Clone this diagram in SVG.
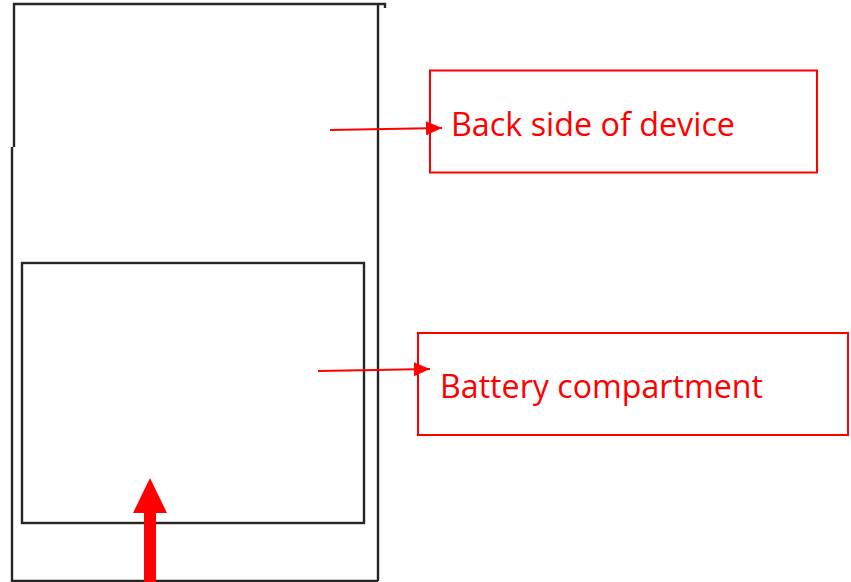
<svg xmlns="http://www.w3.org/2000/svg" width="851" height="582" viewBox="0 0 851 582">
<defs>
<style>
.dev{fill:none;stroke:#262626;stroke-width:2.4}
.box{fill:none;stroke:#ff0000;stroke-width:2}
.lbl{font-family:"Open Sans","Liberation Sans",Arial,sans-serif;font-size:32px;fill:#ff0000}
.con{stroke:#ff0000;stroke-width:2;fill:none}
</style>
<marker id="ah" markerWidth="16" markerHeight="14" refX="16" refY="7" orient="auto" markerUnits="userSpaceOnUse">
<path d="M0,0 L16,7 L0,14 Z" fill="#ff0000"/>
</marker>
</defs>
<rect width="851" height="582" fill="#ffffff"/>
<g id="device">
<path class="dev" d="M14,147 L14,4 L385,4 L385,8 M378,4 L378,581 M12,147 L12,581 L378,581"/>
</g>
<g id="compartment">
<rect class="dev" x="22" y="263" width="342" height="260"/>
</g>
<g id="label-back">
<rect class="box" x="430" y="70.5" width="387" height="102"/>
<text class="lbl" x="451" y="136" textLength="284" lengthAdjust="spacingAndGlyphs">Back side of device</text>
</g>
<g id="label-battery">
<rect class="box" x="418" y="333" width="430" height="102"/>
<text class="lbl" x="440" y="398" textLength="323" lengthAdjust="spacingAndGlyphs">Battery compartment</text>
</g>
<g id="connectors">
<line class="con" x1="330" y1="130" x2="442" y2="128" marker-end="url(#ah)"/>
<line class="con" x1="318" y1="371" x2="430" y2="369" marker-end="url(#ah)"/>
<path d="M144,513 L156,513 L156,582 L144,582 Z M133,513 L150,478 L167,513 Z" fill="#ff0000"/>
</g>
</svg>
